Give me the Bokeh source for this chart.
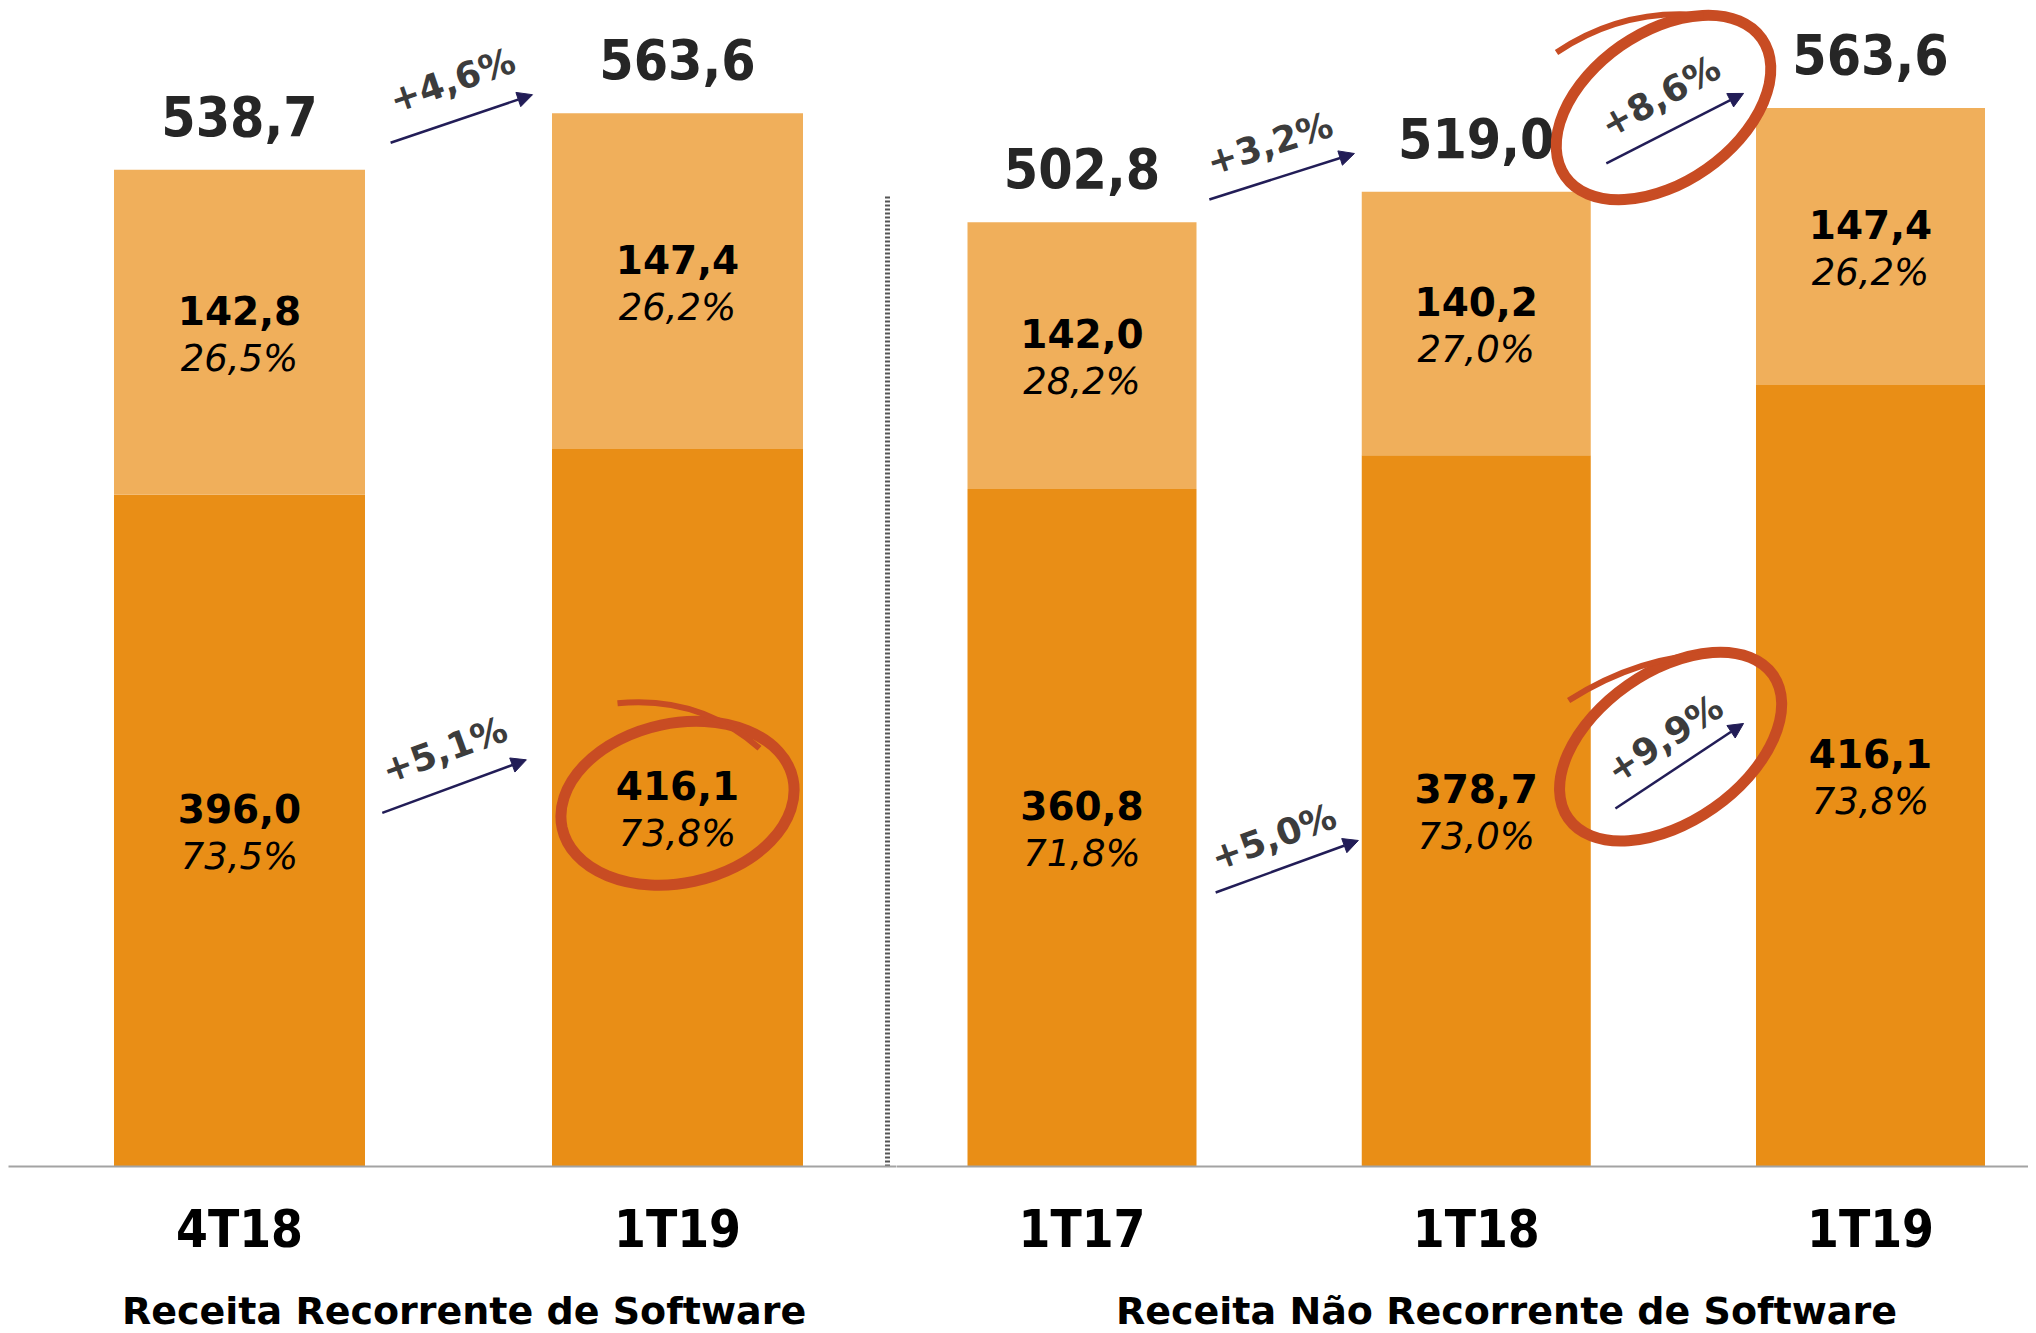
import math
from bokeh.plotting import figure
from bokeh.layouts import row, column
from bokeh.models import (ColumnDataSource, FixedTicker, Range1d, Legend, LegendItem,
                          Arrow, NormalHead)
from bokeh.core.properties import value
from bokeh.embed import file_html
from bokeh.resources import INLINE

# ---------------- data ----------------
left_periods = ["4T18", "1T19"]
left_recurring = [396.0, 416.1]
left_nonrecurring = [142.8, 147.4]
left_total = [538.7, 563.6]
left_rec_share = ["73,5%", "73,8%"]
left_non_share = ["26,5%", "26,2%"]
left_growth = ["+4,6%", "+5,1%"]

right_periods = ["1T17", "1T18", "1T19"]
right_recurring = [360.8, 378.7, 416.1]
right_nonrecurring = [142.0, 140.2, 147.4]
right_total = [502.8, 519.0, 563.6]
right_rec_share = ["71,8%", "73,0%", "73,8%"]
right_non_share = ["28,2%", "27,0%", "26,2%"]
right_growth = ["+3,2%", "+5,0%", "+8,6%", "+9,9%"]

series_names = ["Receita Recorrente de Software", "Receita Não Recorrente de Software"]

# ---------------- layout / style (positions of annotations) ----------------
# growth label: (text x, text y, angle deg, arrow x0, y0, x1, y1)
left_growth_pos = [
    (0.486, 578.0, 19, 0.345, 550.6, 0.669, 571.7),
    (0.468, 284.0, 20, 0.326, 256.3, 0.655, 279.6),
]
right_growth_pos = [
    (0.476, 544.7, 18, 0.323, 514.9, 0.691, 539.4),
    (0.486, 175.5, 20, 0.339, 145.9, 0.701, 173.6),
    (1.467, 569.8, 29, 1.330, 534.1, 1.678, 571.4),
    (1.478, 227.9, 33, 1.353, 190.6, 1.678, 235.9),
]

DARK = "#E98E16"
LIGHT = "#F0AF5B"
RED = "#C84C23"
NAVY = "#221D57"
TOTAL_C = "#262626"
GROW_C = "#3C3C3C"

FRAME_H = 1158
TOP = 8
BOTTOM = 100
LEG_H = 67

LW, RW = 888, 1132
L_KY, R_KY = 2.277, 1.878
L_Y0, R_Y0 = 101.0, 0.0
L_KX, R_KX = 438.0, 394.25

COND_NAME = "DejaVu Sans Condensed"
SANS_NAME = "DejaVu Sans"
COND = value(COND_NAME)
SANS = value(SANS_NAME)


def fmt(v):
    return f"{v:.1f}".replace(".", ",")


def make_fig(width, periods, y0, ky, xstart, xend, left_border):
    p = figure(frame_width=width, frame_height=FRAME_H, output_backend="svg",
               toolbar_location=None,
               x_range=Range1d(xstart, xend),
               y_range=Range1d(y0, y0 + FRAME_H / ky),
               y_axis_location=None, min_border_left=left_border, min_border_right=0,
               min_border_top=TOP, min_border_bottom=BOTTOM)
    p.outline_line_color = None
    p.grid.visible = False
    p.background_fill_color = "white"
    p.border_fill_color = "white"
    ax = p.xaxis[0]
    ax.ticker = FixedTicker(ticks=list(range(len(periods))))
    ax.major_label_overrides = {i: s for i, s in enumerate(periods)}
    ax.major_tick_line_color = None
    ax.minor_tick_line_color = None
    ax.axis_line_color = "#A3A3A3"
    ax.axis_line_width = 2
    ax.major_label_text_font = COND_NAME
    ax.major_label_text_font_style = "bold"
    ax.major_label_text_font_size = "51px"
    ax.major_label_text_color = "#000000"
    ax.major_label_standoff = 27
    return p


def draw_group(p, periods, rec, non, total, rec_sh, non_sh, y0, ky, bar_w):
    xs = list(range(len(periods)))
    src = ColumnDataSource(dict(
        x=xs, rec=rec, total=total, base=[y0] * len(xs),
        rec_lbl=[fmt(v) for v in rec], non_lbl=[fmt(v) for v in non],
        tot_lbl=[fmt(v) for v in total], rec_sh=rec_sh, non_sh=non_sh,
        rec_mid=[(y0 + r) / 2 for r in rec],
        non_mid=[(r + t) / 2 for r, t in zip(rec, total)],
    ))
    p.vbar(x="x", bottom="base", top="rec", width=bar_w, source=src,
           fill_color=DARK, line_color=None)
    p.vbar(x="x", bottom="rec", top="total", width=bar_w, source=src,
           fill_color=LIGHT, line_color=None)
    common = dict(source=src, text_align="center", text_baseline="middle")
    p.text(x="x", y="total", text="tot_lbl", y_offset=-54, text_font=COND,
           text_font_style="bold", text_font_size="55px", text_color=TOTAL_C, **common)
    for mid, lbl, sh in (("rec_mid", "rec_lbl", "rec_sh"), ("non_mid", "non_lbl", "non_sh")):
        p.text(x="x", y=mid, text=lbl, y_offset=-22, text_font=SANS,
               text_font_style="bold", text_font_size="39px", text_color="#000000", **common)
        p.text(x="x", y=mid, text=sh, y_offset=26, text_font=SANS,
               text_font_style="italic", text_font_size="37px", text_color="#000000", **common)


def draw_growth(p, labels, pos):
    for lbl, (tx, ty, ang, ax0, ay0, ax1, ay1) in zip(labels, pos):
        p.add_layout(Arrow(end=NormalHead(size=15, fill_color=NAVY, line_color=NAVY),
                           x_start=ax0, y_start=ay0, x_end=ax1, y_end=ay1,
                           line_color=NAVY, line_width=2.5))
        p.text(x=[tx], y=[ty], text=[lbl], angle=math.radians(ang),
               text_align="center", text_baseline="middle", text_font=SANS,
               text_font_style="bold", text_font_size="36px", text_color=GROW_C)


def draw_circle(p, cx, cy, w, h, ang, tail, kx, ky):
    p.ellipse(x=[cx], y=[cy], width=w, height=h, angle=math.radians(ang),
              width_units="screen", height_units="screen",
              fill_alpha=0, line_color=RED, line_width=11)
    (sx, sy), (ccx, ccy), (ex, ey) = tail
    p.quadratic(x0=[cx + sx / kx], y0=[cy - sy / ky],
                x1=[cx + ex / kx], y1=[cy - ey / ky],
                cx=[cx + ccx / kx], cy=[cy - ccy / ky],
                line_color=RED, line_width=6)


def legend_fig(width, item_label, color, xpos):
    f = figure(frame_width=width, frame_height=LEG_H, output_backend="svg",
               toolbar_location=None, x_range=Range1d(0, 1), y_range=Range1d(0, 1),
               x_axis_location=None, y_axis_location=None,
               min_border_left=0, min_border_right=0, min_border_top=0, min_border_bottom=0)
    f.outline_line_color = None
    f.grid.visible = False
    r = f.vbar(x=[], top=[], width=0.5, fill_color=color, line_color=None)
    leg = Legend(items=[LegendItem(label=item_label, renderers=[r])],
                 location=(xpos, 0), orientation="horizontal",
                 glyph_width=24, glyph_height=24, label_standoff=11,
                 padding=0, margin=0, spacing=0,
                 border_line_color=None, background_fill_alpha=0,
                 label_text_font=SANS_NAME, label_text_font_style="bold",
                 label_text_font_size="38px", label_text_color="#000000")
    f.add_layout(leg)
    return f


# ---------------- left group ----------------
pl = make_fig(LW, left_periods, L_Y0, L_KY, -231.0 / L_KX, 657.0 / L_KX, 8)
draw_group(pl, left_periods, left_recurring, left_nonrecurring, left_total,
           left_rec_share, left_non_share, L_Y0, L_KY, 251.0 / L_KX)
# dotted separator between the two comparisons
pl.segment(x0=[648.0 / L_KX], y0=[L_Y0], x1=[648.0 / L_KX], y1=[527.0],
           line_color="#555555", line_width=5, line_dash="2 2")
draw_growth(pl, left_growth, left_growth_pos)
draw_circle(pl, 1.0, (L_Y0 + left_recurring[1]) / 2 + 2, 236, 160, 12,
            ((-60, -100), (22, -108), (82, -55)), L_KX, L_KY)

# ---------------- right group ----------------
pr = make_fig(RW, right_periods, R_Y0, R_KY, -185.5 / R_KX, 946.5 / R_KX, 0)
draw_group(pr, right_periods, right_recurring, right_nonrecurring, right_total,
           right_rec_share, right_non_share, R_Y0, R_KY, 229.0 / R_KX)
draw_growth(pr, right_growth, right_growth_pos)
draw_circle(pr, 1.475, 563.9, 240, 150, 35,
            ((-107, -55), (-40, -100), (40, -92)), R_KX, R_KY)
draw_circle(pr, 1.493, 223.6, 250, 150, 35,
            ((-102, -46), (-30, -92), (49, -93)), R_KX, R_KY)

# ---------------- legend row ----------------
leg_l = legend_fig(LW + 8, series_names[0], DARK, 87)
leg_r = legend_fig(RW, series_names[1], LIGHT, 185)

layout = column(row(pl, pr, spacing=0), row(leg_l, leg_r, spacing=0), spacing=0)
open("out.html", "w").write(file_html(layout, INLINE))
